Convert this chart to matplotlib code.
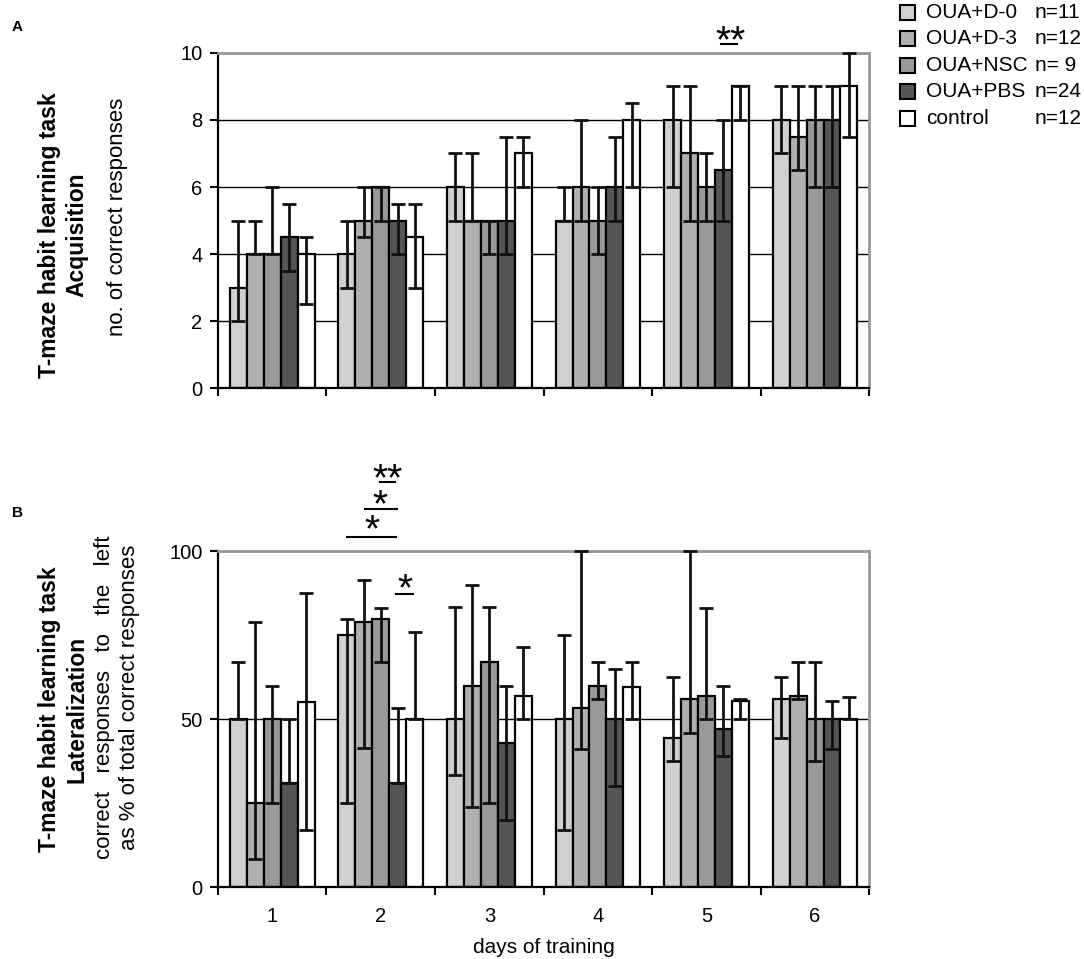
import matplotlib
matplotlib.use('Agg')
import matplotlib.pyplot as plt
from matplotlib.patches import Rectangle
import numpy as np

plt.rcParams['font.family'] = ['Liberation Sans', 'DejaVu Sans']

# groups
groups = ['OUA+D-0', 'OUA+D-3', 'OUA+NSC', 'OUA+PBS', 'control']
group_n = ['n=11', 'n=12', 'n= 9', 'n=24', 'n=12']
colors = ['#d0d0d0', '#b0b0b0', '#999999', '#555555', '#ffffff']
days = [1, 2, 3, 4, 5, 6]

# A: acquisition, no. of correct responses (median, lower, upper)
acq_med = [
    [3, 4, 6, 5, 8, 8],
    [4, 5, 5, 6, 7, 7.5],
    [4, 6, 5, 5, 6, 8],
    [4.5, 5, 5, 6, 6.5, 8],
    [4, 4.5, 7, 8, 9, 9],
]
acq_lo = [
    [2, 3, 5, 5, 6, 7],
    [4, 4.5, 5, 5, 5, 6.5],
    [4, 5, 4, 4, 5, 6],
    [3.5, 4, 4, 5, 5, 6],
    [2.5, 3, 6, 6, 8, 7.5],
]
acq_hi = [
    [5, 5, 7, 6, 9, 9],
    [5, 6, 7, 8, 9, 9],
    [6, 6, 5, 6, 7, 9],
    [5.5, 5.5, 7.5, 7.5, 8, 9],
    [4.5, 5.5, 7.5, 8.5, 9, 10],
]

# B: lateralization, % correct responses to the left
lat_med = [
    [50, 75, 50, 50, 44.5, 56],
    [25, 79, 60, 53.5, 56, 57],
    [50, 80, 67, 60, 57, 50],
    [31, 31, 43, 50, 47, 50],
    [55, 50, 57, 59.5, 55.5, 50],
]
lat_lo = [
    [50, 25, 33.5, 17, 37.5, 44.5],
    [8.5, 41.5, 24, 41, 46, 56],
    [25, 67, 25, 56, 50, 37.5],
    [31, 31, 20, 30, 39, 41],
    [17, 50, 50, 50, 50, 50],
]
lat_hi = [
    [67, 80, 83.5, 75, 62.5, 62.5],
    [79, 91.5, 90, 100, 100, 67],
    [60, 83, 83.5, 67, 83, 67],
    [50, 53.5, 60, 65, 60, 55.5],
    [87.5, 76, 71.5, 67, 56, 56.5],
]

W = 0.156


def draw_panel(ax, med, lo, hi, ymax, yticks, show_labels):
    x0 = np.array(days, dtype=float)
    for i in range(len(groups)):
        xs = x0 + (i - 2) * W
        m = np.array(med[i], dtype=float)
        l = np.array(lo[i], dtype=float)
        h = np.array(hi[i], dtype=float)
        ax.bar(xs, m, width=W, color=colors[i], edgecolor='black', linewidth=1.6, zorder=2)
        ax.errorbar(xs, m, yerr=[m - l, h - m], fmt='none', ecolor='#111111',
                    elinewidth=2, capsize=5, capthick=2, zorder=3, clip_on=False)
    ax.set_xlim(0.5, 6.5)
    ax.set_ylim(0, ymax)
    ax.set_yticks(yticks)
    ax.set_axisbelow(True)
    ax.yaxis.grid(True, color='black', linewidth=1)
    ax.set_xticks(np.arange(0.5, 7, 1))
    ax.set_xticklabels([])
    ax.set_xticks(days, minor=True)
    if show_labels:
        ax.set_xticklabels([str(d) for d in days], minor=True)
    ax.tick_params(axis='x', which='major', direction='out', length=6, width=1.5)
    ax.tick_params(axis='x', which='minor', length=0, labelsize=14.5, pad=14)
    ax.tick_params(axis='y', direction='out', length=6, width=1.5, labelsize=14.5, pad=5)
    for s in ['top', 'right']:
        ax.spines[s].set_color('#999999')
        ax.spines[s].set_linewidth(2)
    for s in ['left', 'bottom']:
        ax.spines[s].set_color('black')
        ax.spines[s].set_linewidth(1.6)


fig = plt.figure(figsize=(10.84, 9.59), dpi=100)
axA = fig.add_axes([0.201, 0.595, 0.601, 0.350])
axB = fig.add_axes([0.201, 0.075, 0.601, 0.350])

draw_panel(axA, acq_med, acq_lo, acq_hi, 10, [0, 2, 4, 6, 8, 10], False)
draw_panel(axB, lat_med, lat_lo, lat_hi, 100, [0, 50, 100], True)
axB.set_xlabel('days of training', fontsize=15, labelpad=9)


def px(x, y):
    return x / 1084, 1 - y / 959


# panel letters
fig.text(*px(12, 27), 'A', fontsize=11, fontweight='bold', va='center')
fig.text(*px(12, 513), 'B', fontsize=11, fontweight='bold', va='center')

# y labels panel A
fig.text(*px(50, 235), 'T-maze habit learning task', rotation=90, fontsize=16.5,
         fontweight='bold', ha='center', va='center')
fig.text(*px(77, 235), 'Acquisition', rotation=90, fontsize=16.5,
         fontweight='bold', ha='center', va='center')
fig.text(*px(118, 217), 'no. of correct responses', rotation=90, fontsize=16,
         ha='center', va='center')

# y labels panel B
fig.text(*px(50, 709), 'T-maze habit learning task', rotation=90, fontsize=16.5,
         fontweight='bold', ha='center', va='center')
fig.text(*px(77, 709), 'Lateralization', rotation=90, fontsize=16.5,
         fontweight='bold', ha='center', va='center')
fig.text(*px(105, 697), 'correct   responses   to   the   left', rotation=90, fontsize=16,
         ha='center', va='center')
fig.text(*px(130, 697), 'as % of total correct responses', rotation=90, fontsize=16,
         ha='center', va='center')

# legend
for k in range(len(groups)):
    yc = 12 + k * 26.6
    x, y = px(900, yc + 7.5)
    fig.patches.append(Rectangle((x, y), 15 / 1084, 15 / 959, transform=fig.transFigure,
                                 facecolor=colors[k], edgecolor='black', linewidth=1.5))
    fig.text(*px(926, yc), groups[k], fontsize=15, va='center')
    fig.text(*px(1035, yc), group_n[k], fontsize=15, va='center')

# significance marks
axA.text(5.22, 10.3, '**', fontsize=28, ha='center', va='center', clip_on=False)
axA.plot([5.13, 5.28], [10.25, 10.25], color='black', lw=1.5, clip_on=False)

sig_b = [
    (2.06, 121.3, 1.99, 2.13, 120.6, '**'),
    (1.99, 113.3, 1.855, 2.15, 112.6, '*'),
    (1.92, 106, 1.69, 2.14, 104.3, '*'),
    (2.22, 88.3, 2.14, 2.30, 87.3, '*'),
]
for tx, ty, l0, l1, ly, s in sig_b:
    axB.text(tx, ty, s, fontsize=28, ha='center', va='center', clip_on=False)
    axB.plot([l0, l1], [ly, ly], color='black', lw=1.5, clip_on=False)

fig.savefig('out.png', dpi=100)
